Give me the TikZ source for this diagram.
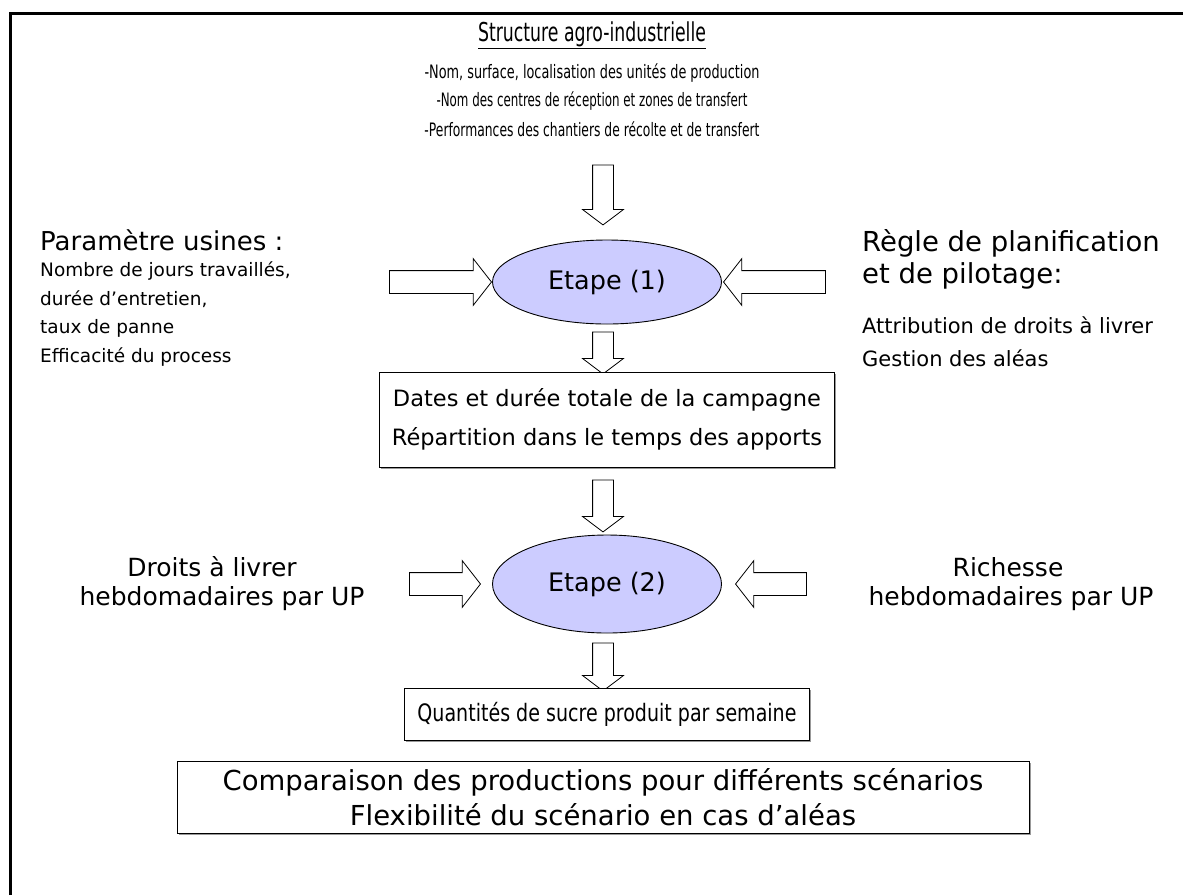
\documentclass[tikz,border=0pt]{standalone}
\usepackage{fontspec}
\usepackage{graphicx}
\setmainfont{DejaVu Sans}
\usetikzlibrary{shapes.geometric,shapes.arrows,shadows}
\definecolor{lav}{HTML}{CCCCFF}
\newcommand\fsz[1]{\fontsize{#1}{#1}\selectfont}
\newcommand\fitw[2]{\resizebox{#1}{\height}{#2}}
\tikzset{
  txt/.style={inner sep=0pt, align=center},
  bigtxt/.style={txt, font=\fsz{25}},
  smalltxt/.style={txt, font=\fsz{18.5}},
  stepell/.style={ellipse, draw=black, line width=0.9pt, fill=lav, minimum width=229pt, inner sep=0pt, font=\fsz{25.5}},
  resbox/.style={draw=black, line width=0.9pt, fill=white, inner sep=0pt, align=center,
    drop shadow={shadow xshift=1.5pt, shadow yshift=-1.5pt, fill=black!40, opacity=1}},
  darr/.style={single arrow, draw=black, fill=white, line width=0.8pt, inner sep=0pt,
    text height=20pt, text depth=0pt, text width=0pt,
    single arrow head extend=10pt, single arrow tip angle=106,
    single arrow head indent=0pt, rotate=-90},
  sarr/.style={single arrow, draw=black, fill=white, line width=0.8pt, inner sep=0pt,
    text height=22pt, text depth=0pt, text width=0pt,
    single arrow head extend=12pt, single arrow tip angle=104,
    single arrow head indent=0pt},
}
\begin{document}
\begin{tikzpicture}[x=1pt,y=-1pt]
\useasboundingbox (0,0) rectangle (1183,895);
\draw[line width=3pt] (10,895) -- (10,13) -- (1183,13);

% top block
\node[txt, font=\fsz{26}] (title) at (592,35) {\fitw{228pt}{\underline{Structure agro-industrielle}}};
\node[txt, font=\fsz{18.5}] (s1) at (592,73) {\fitw{335pt}{-Nom, surface, localisation des unités de production}};
\node[txt, font=\fsz{18.5}] (s2) at (592,101) {\fitw{311pt}{-Nom des centres de réception et zones de transfert}};
\node[txt, font=\fsz{18.5}] (s3) at (592,129) {\fitw{335pt}{-Performances des chantiers de récolte et de transfert}};

% left parameters
\node[bigtxt, anchor=west, font=\fsz{26}] (pu) at (40,240) {Paramètre usines :};
\node[smalltxt, anchor=west] (pu1) at (40,271) {Nombre de jours travaillés,};
\node[smalltxt, anchor=west] (pu2) at (40,299) {durée d’entretien,};
\node[smalltxt, anchor=west] (pu3) at (40,328) {taux de panne};
\node[smalltxt, anchor=west] (pu4) at (40,357) {Efficacité du process};

% right rules
\node[bigtxt, anchor=west, font=\fsz{27.5}] (rp) at (862,243) {Règle de planification};
\node[bigtxt, anchor=west, font=\fsz{27.5}] (rp1) at (862,276) {et de pilotage:};
\node[smalltxt, anchor=west, font=\fsz{21}] (rp2) at (862,325) {Attribution de droits à livrer};
\node[smalltxt, anchor=west, font=\fsz{21}] (rp3) at (862,358) {Gestion des aléas};

% step 1
\node[stepell, minimum height=84pt] (e1) at (607,282) {Etape (1)};
\node[darr, minimum height=60pt] (a1) at (603,191) {};
\node[sarr, minimum height=102pt] (al1) at (436,282) {};
\node[sarr, minimum height=102pt, rotate=180] (ar1) at (779,282) {};
\node[darr, minimum height=42pt] (a2) at (603,349) {};

% box 1
\node[resbox, minimum width=455pt, minimum height=95pt, font=\fontsize{22.5}{39}\selectfont] (b1) at (607,419.5)
  {Dates et durée totale de la campagne\\Répartition dans le temps des apports};
\node[darr, minimum height=52pt] (a3) at (603,502) {};

% step 2
\node[stepell, minimum height=98pt] (e2) at (607,584) {Etape (2)};
\node[sarr, minimum height=71pt] (al2) at (440.5,584) {};
\node[sarr, minimum height=71pt, rotate=180] (ar2) at (775.5,584) {};
\node[bigtxt] (dl) at (212,567) {Droits à livrer};
\node[bigtxt] (dl2) at (222,599) {hebdomadaires par UP};
\node[bigtxt] (ri) at (1008,567) {Richesse};
\node[bigtxt] (ri2) at (1011,599) {hebdomadaires par UP};
\node[darr, minimum height=48pt] (a4) at (603,663) {};

% results
\node[resbox, minimum width=405pt, minimum height=52pt, font=\fsz{24}] (b2) at (607,714)
  {\fitw{379pt}{Quantités de sucre produit par semaine}};
\node[resbox, minimum width=852pt, minimum height=72pt, font=\fontsize{27.5}{35}\selectfont] (b3) at (603,797.5)
  {Comparaison des productions pour différents scénarios\\Flexibilité du scénario en cas d'aléas};
\end{tikzpicture}
\end{document}
